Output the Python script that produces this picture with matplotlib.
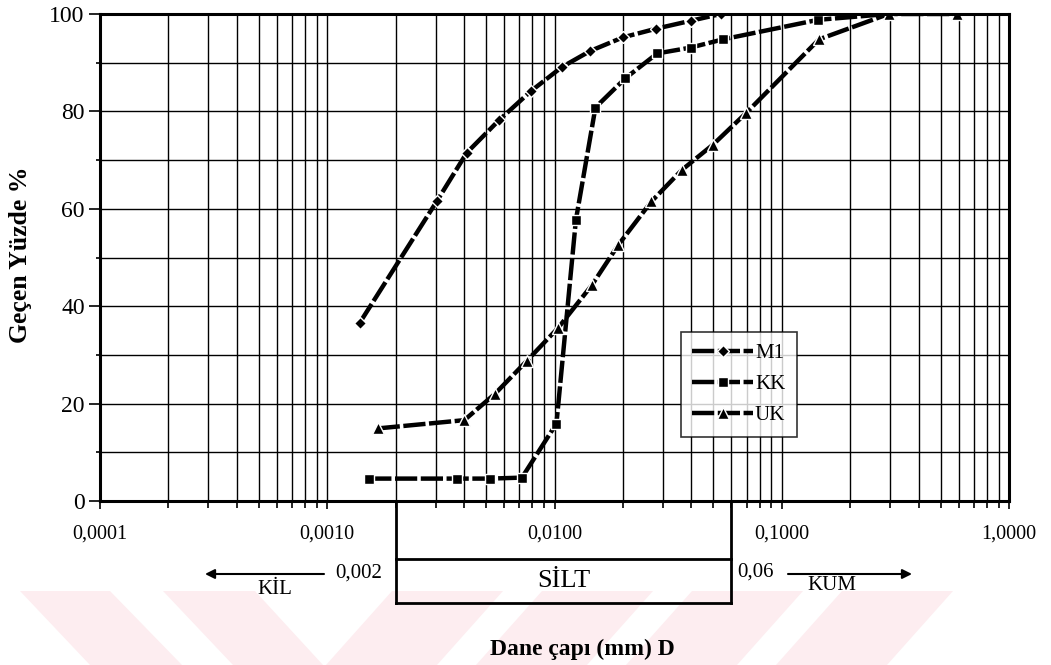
import numpy as np
import matplotlib
matplotlib.use("Agg")
import matplotlib.pyplot as plt
from matplotlib.ticker import LogLocator, FuncFormatter, MultipleLocator, NullFormatter
from matplotlib.patches import Polygon
import matplotlib.transforms as mtransforms

# ---------------- data ----------------
m1_d = [0.00139, 0.00303, 0.00411, 0.0057, 0.00789, 0.01077, 0.01435, 0.0200, 0.0281, 0.0397, 0.0539]
m1_p = [36.6, 61.5, 71.5, 78.2, 84.2, 89.1, 92.4, 95.2, 97.0, 98.6, 100.0]

kk_d = [0.00153, 0.00373, 0.0052, 0.00719, 0.0102, 0.01242, 0.01514, 0.0205, 0.0283, 0.0397, 0.0552, 0.1443, 0.293]
kk_p = [4.6, 4.6, 4.6, 4.8, 15.9, 57.7, 80.8, 86.8, 91.9, 93.1, 94.8, 98.8, 100.0]

uk_d = [0.001667, 0.00401, 0.00547, 0.00753, 0.0104, 0.01459, 0.0191, 0.0267, 0.0364, 0.0499, 0.0698, 0.146, 0.295, 0.589]
uk_p = [14.9, 16.6, 22.0, 28.7, 35.6, 44.3, 52.6, 61.5, 68.0, 73.2, 79.7, 94.8, 100.0, 100.0]

series_names = ["M1", "KK", "UK"]
y_ticks = [0, 20, 40, 60, 80, 100]
silt_limits = [0.002, 0.06]
silt_labels = ["0,002", "0,06"]
zone_labels = ["KİL", "SİLT", "KUM"]

# ---------------- figure ----------------
plt.rcParams['font.family'] = ['Liberation Serif', 'DejaVu Serif']
W, H = 1051, 665
fig = plt.figure(figsize=(W / 100, H / 100), dpi=100)

# watermark (light pink stripes) on a background axes
bg = fig.add_axes([0, 0, 1, 1], zorder=-5)
bg.set_xlim(0, W)
bg.set_ylim(H, 0)
bg.axis('off')
wm_color = '#fdedf0'
bands = [
    [(20, 591), (110, 591), (182, 665), (90, 665)],
    [(163, 591), (255, 591), (323, 665), (233, 665)],
    [(392, 591), (503, 591), (437, 665), (326, 665)],
    [(542, 591), (653, 591), (587, 665), (476, 665)],
    [(692, 591), (803, 591), (737, 665), (626, 665)],
    [(842, 591), (953, 591), (887, 665), (776, 665)],
]
for b in bands:
    bg.add_patch(Polygon(b, closed=True, facecolor=wm_color, edgecolor='none'))

ax = fig.add_axes([100 / W, 1 - 501 / H, 909 / W, 487 / H], zorder=2)
ax.patch.set_facecolor('white')

ax.set_xscale('log')
ax.set_xlim(0.0001, 1.0)
ax.set_ylim(0, 100)

lw = 3.2
common = dict(color='black', lw=lw, dashes=(5, 0.8), mec='white', mew=1.0, mfc='black', zorder=5)
ax.plot(m1_d, m1_p, marker='D', ms=6.5, label=series_names[0], **common)
ax.plot(kk_d, kk_p, marker='s', ms=7, label=series_names[1], **common)
ax.plot(uk_d, uk_p, marker='^', ms=8, label=series_names[2], **common)

# ticks
ax.xaxis.set_major_locator(LogLocator(base=10, numticks=10))
ax.xaxis.set_minor_locator(LogLocator(base=10, subs=np.arange(2, 10), numticks=20))
ax.xaxis.set_minor_formatter(NullFormatter())
ax.xaxis.set_major_formatter(FuncFormatter(lambda v, p: f"{v:.4f}".replace('.', ',')))
ax.set_yticks(y_ticks)
ax.yaxis.set_minor_locator(MultipleLocator(10))

ax.grid(True, which='both', color='black', lw=1.0)
ax.set_axisbelow(True)
ax.tick_params(axis='x', which='major', direction='out', length=6, width=1.2, labelsize=14.5, pad=11)
ax.tick_params(axis='x', which='minor', direction='out', length=5, width=1.2)
ax.tick_params(axis='y', which='major', direction='out', length=8, width=1.2, labelsize=17, pad=3)
ax.tick_params(axis='y', which='minor', direction='out', length=3, width=1.2)
for s in ax.spines.values():
    s.set_linewidth(2.2)
    s.set_zorder(6)

ax.set_ylabel("Geçen Yüzde %", fontsize=18.5, fontweight='bold')
ax.yaxis.set_label_coords((32 - 100) / 909, (501 - 255) / 487)

# legend
leg = ax.legend(loc='upper left', bbox_to_anchor=((681 - 100) / 909, (501 - 332) / 487),
                borderaxespad=0, frameon=True, fancybox=False, edgecolor='black',
                fontsize=15, handlelength=2.9, handletextpad=0.1, labelspacing=0.55,
                borderpad=0.55)
leg.get_frame().set_linewidth(1.2)
leg.set_zorder(7)

# ------------- bottom annotations (SİLT band) -------------
def yf(py):
    return (501 - py) / 487

def xf(px):
    return (px - 100) / 909

trans = mtransforms.blended_transform_factory(ax.transData, ax.transAxes)
x0, x1 = silt_limits
kw = dict(color='black', lw=2.0, transform=trans, clip_on=False, zorder=4)
ax.plot([x0, x0], [0, yf(603)], **kw)
ax.plot([x1, x1], [0, yf(603)], **kw)
ax.plot([x0, x1], [yf(559), yf(559)], **kw)
ax.plot([x0, x1], [yf(603), yf(603)], **kw)

ax.text(np.sqrt(x0 * x1), yf(581), zone_labels[1], transform=trans, ha='center', va='center', fontsize=19)
ax.text(xf(382), yf(573), silt_labels[0], transform=ax.transAxes, ha='right', va='center', fontsize=15)
ax.text(xf(737), yf(572), silt_labels[1], transform=ax.transAxes, ha='left', va='center', fontsize=15)
ax.text(xf(275), yf(590), zone_labels[0], transform=ax.transAxes, ha='center', va='center', fontsize=15)
ax.text(xf(832), yf(586), zone_labels[2], transform=ax.transAxes, ha='center', va='center', fontsize=15)

ax.annotate("", xy=(xf(205), yf(574)), xytext=(xf(324), yf(574)), xycoords='axes fraction',
            arrowprops=dict(arrowstyle='-|>', color='black', lw=1.5, mutation_scale=14,
                            shrinkA=0, shrinkB=0), annotation_clip=False)
ax.annotate("", xy=(xf(912), yf(574)), xytext=(xf(788), yf(574)), xycoords='axes fraction',
            arrowprops=dict(arrowstyle='-|>', color='black', lw=1.5, mutation_scale=14,
                            shrinkA=0, shrinkB=0), annotation_clip=False)

fig.text(582 / W, 1 - 649 / H, "Dane çapı (mm) D", ha='center', va='center',
         fontsize=17, fontweight='bold')

fig.savefig("out.png", dpi=100, facecolor='white')
